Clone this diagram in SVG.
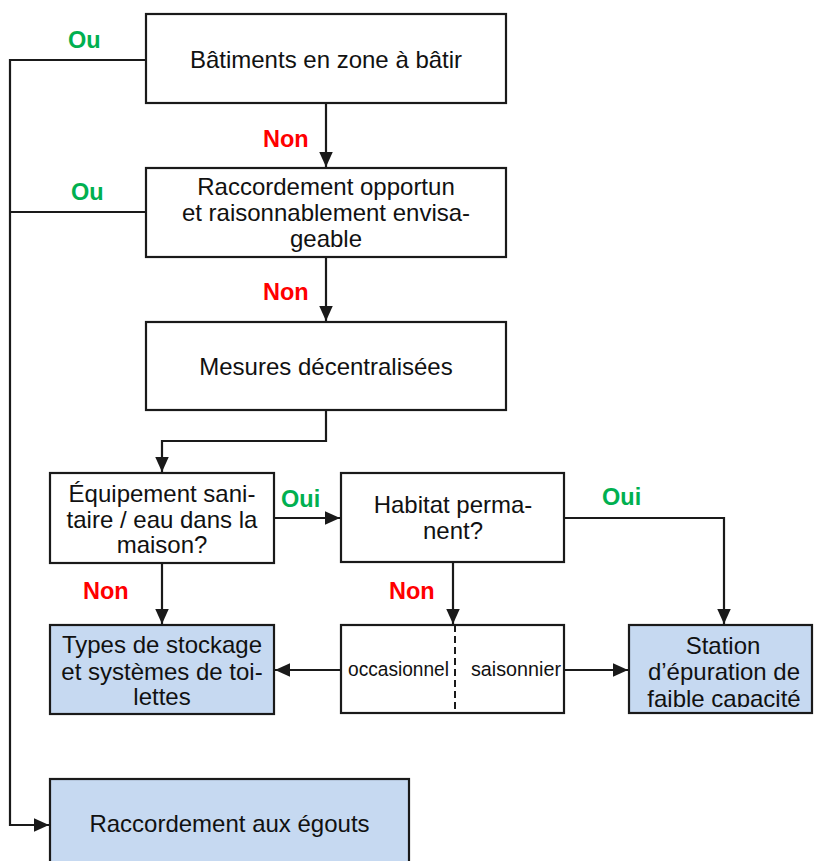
<svg xmlns="http://www.w3.org/2000/svg" width="814" height="861" viewBox="0 0 814 861">
<style>
.box{fill:#fff;stroke:#1a1a1a;stroke-width:2.2}
.blue{fill:#c6d9f1;stroke:#1a1a1a;stroke-width:2.2}
.t{font-family:"Liberation Sans",Arial,sans-serif;font-size:24px;fill:#111;text-anchor:middle}
.s{font-family:"Liberation Sans",Arial,sans-serif;font-size:20.5px;fill:#111}
.lbl{font-family:"Liberation Sans",Arial,sans-serif;font-size:23.5px;font-weight:bold}
.non{fill:#ff0000}
.ou{fill:#00b050}
.c{fill:none;stroke:#1a1a1a;stroke-width:2.2}
</style>
<defs>
<marker id="ah" viewBox="0 0 10 10" refX="10" refY="5" markerUnits="userSpaceOnUse" markerWidth="15" markerHeight="15" orient="auto">
<path d="M0,0.5 L10,5 L0,9.5 z" fill="#1a1a1a"/>
</marker>
<clipPath id="stclip"><rect x="629" y="625" width="184" height="82"/></clipPath>
</defs>
<rect width="814" height="861" fill="#fff"/>
<g id="connectors">
<path class="c" d="M326,103 V167" marker-end="url(#ah)"/>
<path class="c" d="M326,257 V321" marker-end="url(#ah)"/>
<path class="c" d="M326,410 V441 H162 V472" marker-end="url(#ah)"/>
<path class="c" d="M274,518 H340" marker-end="url(#ah)"/>
<path class="c" d="M564,518 H724 V624" marker-end="url(#ah)"/>
<path class="c" d="M162,563 V624" marker-end="url(#ah)"/>
<path class="c" d="M453,562 V624" marker-end="url(#ah)"/>
<path class="c" d="M341,670 H275" marker-end="url(#ah)"/>
<path class="c" d="M564,670 H628" marker-end="url(#ah)"/>
<path class="c" d="M146,60 H10 V825 H49" marker-end="url(#ah)"/>
<path class="c" d="M146,212 H10"/>
</g>
<g id="labels">
<text class="lbl ou" x="68" y="48">Ou</text>
<text class="lbl ou" x="71" y="200">Ou</text>
<text class="lbl non" x="263" y="147">Non</text>
<text class="lbl non" x="263" y="300">Non</text>
<text class="lbl ou" x="281" y="507">Oui</text>
<text class="lbl ou" x="602" y="505">Oui</text>
<text class="lbl non" x="83" y="599">Non</text>
<text class="lbl non" x="389" y="599">Non</text>
</g>
<g id="n1">
<rect class="box" x="146" y="14" width="360" height="89"/>
<text class="t" x="326" y="68">Bâtiments en zone à bâtir</text>
</g>
<g id="n2">
<rect class="box" x="146" y="168" width="360" height="89"/>
<text class="t" x="326" y="195">Raccordement opportun</text>
<text class="t" x="326" y="221">et raisonnablement envisa-</text>
<text class="t" x="326" y="247">geable</text>
</g>
<g id="n3">
<rect class="box" x="146" y="322" width="360" height="88"/>
<text class="t" x="326" y="375">Mesures décentralisées</text>
</g>
<g id="n4">
<rect class="box" x="50" y="473" width="224" height="90"/>
<text class="t" x="162" y="502">Équipement sani-</text>
<text class="t" x="162" y="528">taire / eau dans la</text>
<text class="t" x="162" y="553">maison?</text>
</g>
<g id="n5">
<rect class="box" x="341" y="473" width="223" height="89"/>
<text class="t" x="453" y="513">Habitat perma-</text>
<text class="t" x="453" y="539">nent?</text>
</g>
<g id="n6">
<rect class="blue" x="50" y="625" width="224" height="89"/>
<text class="t" x="162" y="653">Types de stockage</text>
<text class="t" x="162" y="680">et systèmes de toi-</text>
<text class="t" x="162" y="705">lettes</text>
</g>
<g id="n7">
<rect class="box" x="341" y="625" width="223" height="88"/>
<line x1="455" y1="625" x2="455" y2="713" stroke="#1a1a1a" stroke-width="2" stroke-dasharray="7,4"/>
<text class="s" x="348" y="676" textLength="101" lengthAdjust="spacingAndGlyphs">occasionnel</text>
<text class="s" x="471" y="676" textLength="90" lengthAdjust="spacingAndGlyphs">saisonnier</text>
</g>
<g id="n8">
<rect class="blue" x="629" y="625" width="183" height="88"/>
<g clip-path="url(#stclip)">
<text class="t" x="723" y="654">Station</text>
<text class="t" x="724" y="680">d’épuration de</text>
<text class="t" x="724" y="707">faible capacité</text>
</g>
</g>
<g id="n9">
<rect class="blue" x="50" y="779" width="359" height="90"/>
<text class="t" x="229.5" y="832">Raccordement aux égouts</text>
</g>
</svg>
